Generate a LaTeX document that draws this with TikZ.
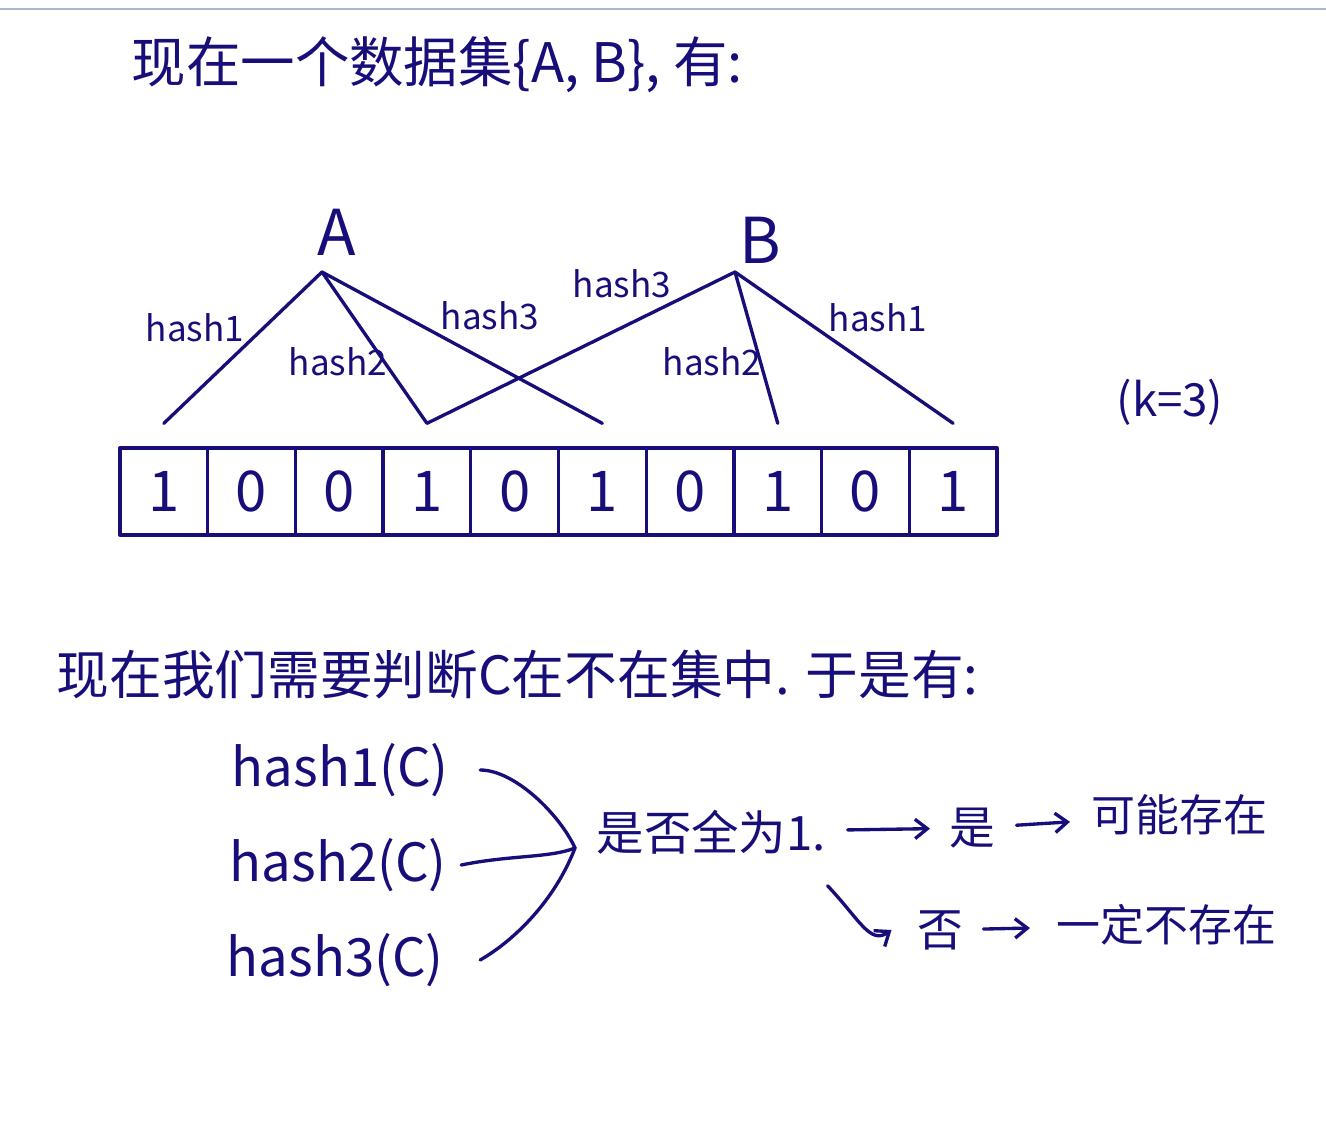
\documentclass[tikz,border=0pt]{standalone}
\usepackage{fontspec}
\usepackage{tikz}
\usetikzlibrary{arrows.meta}
\newfontfamily\cjk{Noto Sans CJK SC}
\definecolor{ink}{RGB}{24,14,122}
\definecolor{rulegray}{RGB}{170,184,210}

\begin{document}
\begin{tikzpicture}[x=0.02cm, y=-0.02cm, line cap=round, line join=round, line width=1.9pt, ink,
  txt/.style={font=\cjk\fontsize{#1}{#1}\selectfont, inner sep=0pt, text=ink},
  bit/.style={draw, minimum width=1.754cm, minimum height=1.74cm, inner sep=0pt, font=\cjk\fontsize{32}{32}\selectfont},
  arr/.style={-{Straight Barb[length=7pt,width=11pt]}}]
\useasboundingbox (0,0) rectangle (1326,1140);
\draw[rulegray, line width=1.4pt] (0,9) -- (1326,9);
\node[txt=31, anchor=west] (title) at (130,65) {现在一个数据集\{A, B\}, 有:};
\node[txt=36] (A) at (337,232) {A};
\node[txt=36] (B) at (760,240) {B};
\coordinate (apexA) at (322,272);
\coordinate (apexB) at (735,272);
\foreach \v [count=\i] in {1,0,0,1,0,1,0,1,0,1}
  \node[bit] (c\i) at ({120+87.7*(\i-0.5)},491.5) {\v};
\foreach \i in {1,4,6,8,10}
  \coordinate (t\i) at ([yshift=0.46cm]c\i.north);
\draw (apexA) -- (t1);
\draw (apexA) -- (t4) -- (apexB);
\draw (apexA) -- (t6);
\draw (apexB) -- (t8);
\draw (apexB) -- (t10);
\node[txt=20] (a1) at (195,328) {hash1};
\node[txt=20] (a2) at (338,362) {hash2};
\node[txt=20] (a3) at (490,316) {hash3};
\node[txt=20] (b3) at (622,284) {hash3};
\node[txt=20] (b2) at (712,362) {hash2};
\node[txt=20] (b1) at (878,318) {hash1};
\node[txt=26] (k) at (1170,402) {(k=3)};
\node[txt=30, anchor=west] (ask) at (55,675) {现在我们需要判断C在不在集中. 于是有:};
\node[txt=30, anchor=west] (h1) at (230,770) {hash1(C)};
\node[txt=30, anchor=west] (h2) at (228,865) {hash2(C)};
\node[txt=30, anchor=west] (h3) at (225,960) {hash3(C)};
\coordinate (m) at (575,848);
\draw ([xshift=0.6cm]h1.east) .. controls (515,770) and (560,815) .. (m);
\draw ([xshift=0.26cm]h2.east) .. controls (510,855) and (550,858) .. (m);
\draw ([xshift=0.7cm]h3.east) .. controls (515,940) and (555,900) .. (m);
\node[txt=27, anchor=west] (all) at (595,832) {是否全为1.};
\node[txt=26] (yes) at (972,828) {是};
\node[txt=25, anchor=west] (maybe) at (1090,815) {可能存在};
\node[txt=26] (no) at (940,930) {否};
\node[txt=25, anchor=west] (never) at (1055,925) {一定不存在};
\draw[arr, shorten <=0.4cm, shorten >=0.35cm] (all) -- (yes);
\draw[arr, shorten <=0.4cm, shorten >=0.4cm] (yes) -- (maybe);
\coordinate (s) at ([yshift=-0.6cm]all.south east);
\draw[arr] (s) .. controls (860,920) and (870,945) .. ([xshift=-0.48cm]no.west);
\draw[arr, shorten <=0.38cm, shorten >=0.5cm] (no) -- (never);
\end{tikzpicture}
\end{document}
